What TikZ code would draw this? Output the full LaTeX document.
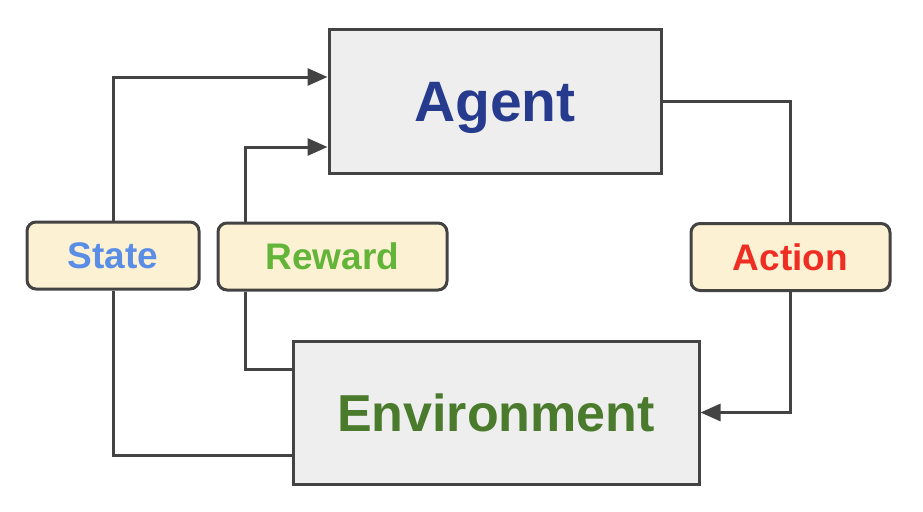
\documentclass[tikz,border=0pt]{standalone}
\usepackage{fontspec}
\setmainfont{Liberation Sans}
\usetikzlibrary{arrows.meta}
\definecolor{linegray}{HTML}{434343}
\definecolor{boxgray}{HTML}{EEEEEE}
\definecolor{tagcream}{HTML}{FDF1D4}
\definecolor{agentblue}{HTML}{263A8E}
\definecolor{envgreen}{HTML}{4A7A2B}
\definecolor{stateblue}{HTML}{5A8EE6}
\definecolor{rewardgreen}{HTML}{62B538}
\definecolor{actionred}{HTML}{EE2E22}
\begin{document}
\begin{tikzpicture}[x=1pt,y=-1pt,
  box/.style={rectangle,draw=linegray,fill=boxgray,line width=3pt,minimum height=143pt,inner sep=0pt,text depth=0pt},
  tag/.style={rectangle,rounded corners=9pt,draw=linegray,fill=tagcream,line width=3pt,minimum height=67pt,inner sep=0pt,text depth=0pt,font=\bfseries\fontsize{37}{40}\selectfont},
  flow/.style={draw=linegray,line width=3pt},
  flowarrow/.style={flow,-{Triangle[length=20pt,width=17pt]}}]
\useasboundingbox (0,0) rectangle (923,511);
% the two boxes
\node (agent) [box,minimum width=332pt,text=agentblue,font=\bfseries\fontsize{57}{60}\selectfont] at (495,101.5) {Agent};
\node (env) [box,minimum width=406pt,text=envgreen,font=\bfseries\fontsize{52}{56}\selectfont] at (496,412.5) {Environment};
% labels on the loop
\node (state) [tag,minimum width=172pt,text=stateblue] at (113,255.5) {State};
\node (reward) [tag,minimum width=229pt,text=rewardgreen] at (332.5,256.5) {Reward};
\node (action) [tag,minimum width=199pt,text=actionred] at (790.5,257) {Action};
\coordinate (rw-s) at ([xshift=-87.5pt]reward.south);
\coordinate (rw-n) at ([xshift=-87.5pt]reward.north);
% connectors
\draw[flow] ([yshift=-42.5pt]env.west) -| (state);
\draw[flowarrow] (state) |- ([yshift=24.5pt]agent.west);
\draw[flow] ([yshift=43.5pt]env.west) -| (rw-s);
\draw[flowarrow] (rw-n) |- ([yshift=-45.5pt]agent.west);
\draw[flow] (agent.east) -| (action);
\draw[flowarrow] (action) |- (env.east);
\end{tikzpicture}
\end{document}
